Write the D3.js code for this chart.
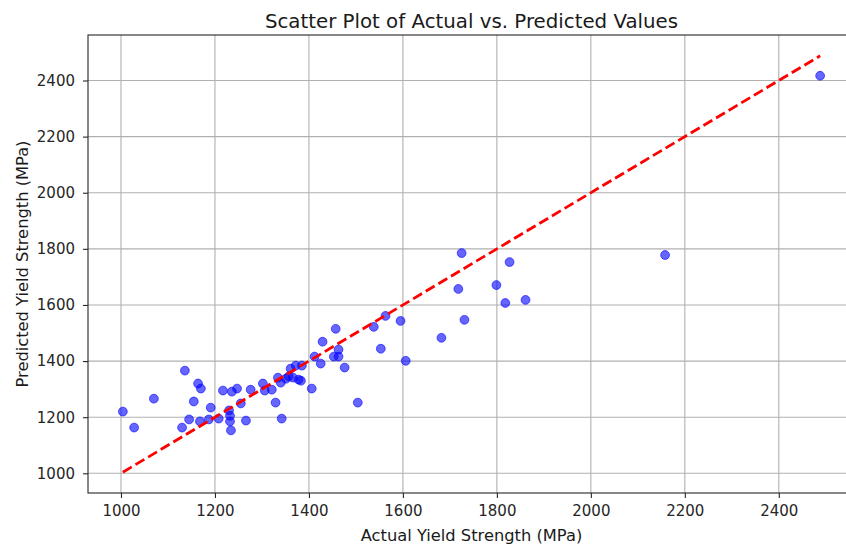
<!DOCTYPE html>
<html>
<head>
<meta charset="utf-8">
<script src="https://cdn.jsdelivr.net/npm/d3@7"></script>
<style>
  body { margin: 0; background: #fff; }
  svg { display: block; font-family: "DejaVu Sans", sans-serif; }
</style>
</head>
<body>
<div class="box"></div>
<script>
// actual vs predicted yield strength (MPa)
const actual = [
  1004, 1028, 1070, 1130, 1136, 1145, 1155, 1164, 1170, 1168,
  1191, 1187, 1208, 1217, 1230, 1232, 1232, 1234, 1236, 1247,
  1255, 1266, 1276, 1302, 1306, 1321, 1329, 1334, 1340, 1342,
  1351, 1357, 1361, 1366, 1372, 1378, 1383, 1385, 1406, 1412,
  1425, 1429, 1453, 1457, 1463, 1463, 1476, 1504, 1538, 1553,
  1563, 1595, 1606, 1682, 1718, 1725, 1731, 1799, 1818, 1827,
  1861, 2158, 2488
]
const predicted = [
  1220, 1163, 1266, 1163, 1366, 1192, 1256, 1320, 1302, 1185,
  1234, 1192, 1195, 1295, 1224, 1205, 1185, 1153, 1291, 1302,
  1249, 1188, 1298, 1320, 1295, 1298, 1252, 1341, 1323, 1195,
  1337, 1345, 1373, 1341, 1384, 1334, 1330, 1384, 1302, 1416,
  1391, 1469, 1416, 1515, 1441, 1416, 1377, 1252, 1522, 1444,
  1561, 1543, 1401, 1483, 1657, 1785, 1547, 1671, 1607, 1753,
  1618, 1778, 2417
]
const xTicks = [1000, 1200, 1400, 1600, 1800, 2000, 2200, 2400]
const yTicks = [1000, 1200, 1400, 1600, 1800, 2000, 2200, 2400]

const W = 846, H = 547
const mLeft = 88, mRight = 855, mTop = 35, mBottom = 493

let svg = d3.select('.box').append('svg')
  .attr('width', W).attr('height', H)

let ext = d3.extent(actual)
let lo = ext[0] - (ext[1] - ext[0]) * 0.05
let hi = ext[1] + (ext[1] - ext[0]) * 0.05

let x = d3.scaleLinear().domain([lo, hi]).range([mLeft, mRight])
let y = d3.scaleLinear().domain([lo, hi]).range([mBottom, mTop])

// grid
svg.append('g').selectAll('line').data(xTicks).join('line')
  .attr('x1', d => x(d)).attr('x2', d => x(d))
  .attr('y1', mTop).attr('y2', mBottom)
  .attr('stroke', '#b0b0b0').attr('stroke-width', 1.1)
svg.append('g').selectAll('line').data(yTicks).join('line')
  .attr('x1', mLeft).attr('x2', mRight)
  .attr('y1', d => y(d)).attr('y2', d => y(d))
  .attr('stroke', '#b0b0b0').attr('stroke-width', 1.1)

// points
let pts = actual.map((a, i) => [a, predicted[i]])
svg.append('g').selectAll('circle').data(pts).join('circle')
  .attr('cx', d => x(d[0])).attr('cy', d => y(d[1]))
  .attr('r', 4.4)
  .attr('fill', 'blue').attr('fill-opacity', 0.6)
  .attr('stroke', 'blue').attr('stroke-opacity', 0.6).attr('stroke-width', 1)

// ideal line
svg.append('line')
  .attr('x1', x(ext[0])).attr('y1', y(ext[0]))
  .attr('x2', x(ext[1])).attr('y2', y(ext[1]))
  .attr('stroke', 'red').attr('stroke-width', 2.8)
  .attr('stroke-dasharray', '10.3 4.4')

// axes
let xAxis = svg.append('g').attr('transform', `translate(0,${mBottom})`)
  .call(d3.axisBottom(x).tickValues(xTicks).tickSize(5).tickPadding(7).tickFormat(d3.format('d')))
let yAxis = svg.append('g').attr('transform', `translate(${mLeft},0)`)
  .call(d3.axisLeft(y).tickValues(yTicks).tickSize(5).tickPadding(8).tickFormat(d3.format('d')))
for (let g of [xAxis, yAxis]) {
  g.select('.domain').remove()
  g.selectAll('text').attr('font-size', 15).attr('fill', '#262626')
    .attr('font-family', '"DejaVu Sans", sans-serif')
  g.selectAll('line').attr('stroke', '#262626').attr('stroke-width', 1.1)
}

// spines
svg.append('rect')
  .attr('x', mLeft).attr('y', mTop)
  .attr('width', mRight - mLeft).attr('height', mBottom - mTop)
  .attr('fill', 'none').attr('stroke', '#262626').attr('stroke-width', 1.1)

// labels
svg.append('text')
  .attr('x', 471.5).attr('y', 28)
  .attr('text-anchor', 'middle').attr('font-size', 19.8).attr('fill', '#1a1a1a')
  .text('Scatter Plot of Actual vs. Predicted Values')
svg.append('text')
  .attr('x', 471.5).attr('y', 541)
  .attr('text-anchor', 'middle').attr('font-size', 16.3).attr('fill', '#1a1a1a')
  .text('Actual Yield Strength (MPa)')
svg.append('text')
  .attr('transform', `translate(28,${(mTop + mBottom) / 2}) rotate(-90)`)
  .attr('text-anchor', 'middle').attr('font-size', 16.3).attr('fill', '#1a1a1a')
  .text('Predicted Yield Strength (MPa)')
</script>
</body>
</html>
